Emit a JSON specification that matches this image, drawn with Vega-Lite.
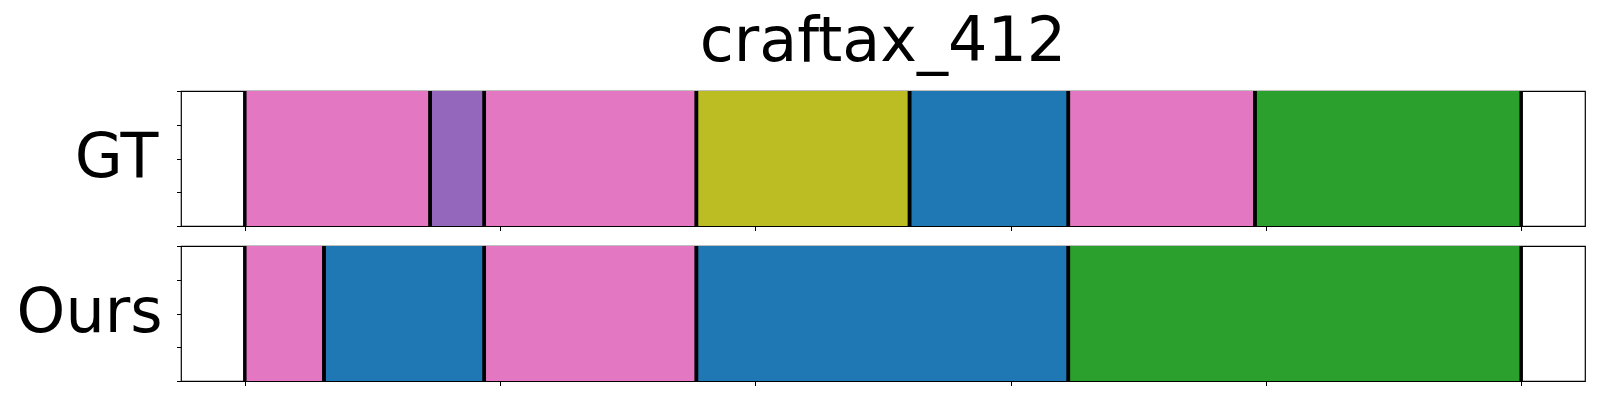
{
  "$schema": "https://vega.github.io/schema/vega-lite/v6.json",
  "background": "white",
  "padding": {"left": 15, "top": 10, "right": 5, "bottom": 5},
  "datasets": {
    "gt": [
      {"start": 0, "end": 72.6, "label": "6"},
      {"start": 72.6, "end": 93.8, "label": "4"},
      {"start": 93.8, "end": 176.9, "label": "6"},
      {"start": 176.9, "end": 260.4, "label": "8"},
      {"start": 260.4, "end": 322.6, "label": "0"},
      {"start": 322.6, "end": 395.7, "label": "6"},
      {"start": 395.7, "end": 500, "label": "2"}
    ],
    "ours": [
      {"start": 0, "end": 31.0, "label": "6"},
      {"start": 31.0, "end": 93.8, "label": "0"},
      {"start": 93.8, "end": 176.9, "label": "6"},
      {"start": 176.9, "end": 322.6, "label": "0"},
      {"start": 322.6, "end": 500, "label": "2"}
    ]
  },
  "config": {
    "view": {"stroke": "black", "strokeWidth": 1.2, "fill": "white"},
    "font": "DejaVu Sans",
    "axis": {
      "domain": false,
      "grid": false,
      "labels": false,
      "ticks": true,
      "tickColor": "black",
      "tickWidth": 1,
      "tickSize": 4.5
    },
    "axisY": {
      "titleAngle": 0,
      "titleAlign": "right",
      "titleBaseline": "alphabetic",
      "titleFontSize": 62,
      "titleFont": "DejaVu Sans",
      "titleFontWeight": "normal",
      "titleColor": "black",
      "titleY": 85
    }
  },
  "spacing": 20,
  "bounds": "flush",
  "vconcat": [
    {
      "width": 1404,
      "height": 135,
      "title": {
        "text": "craftax_412",
        "fontSize": 62,
        "font": "DejaVu Sans",
        "fontWeight": "normal",
        "color": "black",
        "anchor": "middle",
        "frame": "group",
        "baseline": "alphabetic",
        "offset": -34
      },
      "data": {"name": "gt"},
      "encoding": {
        "x": {"field": "start", "type": "quantitative", "scale": {"domain": [-25, 525], "nice": false, "zero": false}, "axis": {"values": [0, 100, 200, 300, 400, 500], "title": null}}
      },
      "layer": [
        {
          "mark": {"type": "rect", "stroke": null},
          "encoding": {
            "x2": {"field": "end"},
            "y": {"datum": 0, "type": "quantitative", "scale": {"domain": [0, 1], "nice": false}, "axis": {"values": [0, 0.25, 0.5, 0.75, 1], "title": "GT", "titleX": -23}},
            "y2": {"datum": 1},
            "color": {"field": "label", "type": "nominal", "scale": {"domain": ["0","1","2","3","4","5","6","7","8","9"], "scheme": "category10"}, "legend": null}
          }
        },
        {
          "mark": {"type": "rule", "color": "black", "strokeWidth": 3.5},
          "encoding": {}
        },
        {
          "mark": {"type": "rule", "color": "black", "strokeWidth": 3.5},
          "encoding": {"x": {"field": "end", "type": "quantitative"}}
        }
      ]
    },
    {
      "width": 1404,
      "height": 135,
      "data": {"name": "ours"},
      "encoding": {
        "x": {"field": "start", "type": "quantitative", "scale": {"domain": [-25, 525], "nice": false, "zero": false}, "axis": {"values": [0, 100, 200, 300, 400, 500], "title": null}}
      },
      "layer": [
        {
          "mark": {"type": "rect", "stroke": null},
          "encoding": {
            "x2": {"field": "end"},
            "y": {"datum": 0, "type": "quantitative", "scale": {"domain": [0, 1], "nice": false}, "axis": {"values": [0, 0.25, 0.5, 0.75, 1], "title": "Ours", "titleX": -19}},
            "y2": {"datum": 1},
            "color": {"field": "label", "type": "nominal", "scale": {"domain": ["0","1","2","3","4","5","6","7","8","9"], "scheme": "category10"}, "legend": null}
          }
        },
        {
          "mark": {"type": "rule", "color": "black", "strokeWidth": 3.5},
          "encoding": {}
        },
        {
          "mark": {"type": "rule", "color": "black", "strokeWidth": 3.5},
          "encoding": {"x": {"field": "end", "type": "quantitative"}}
        }
      ]
    }
  ]
}
